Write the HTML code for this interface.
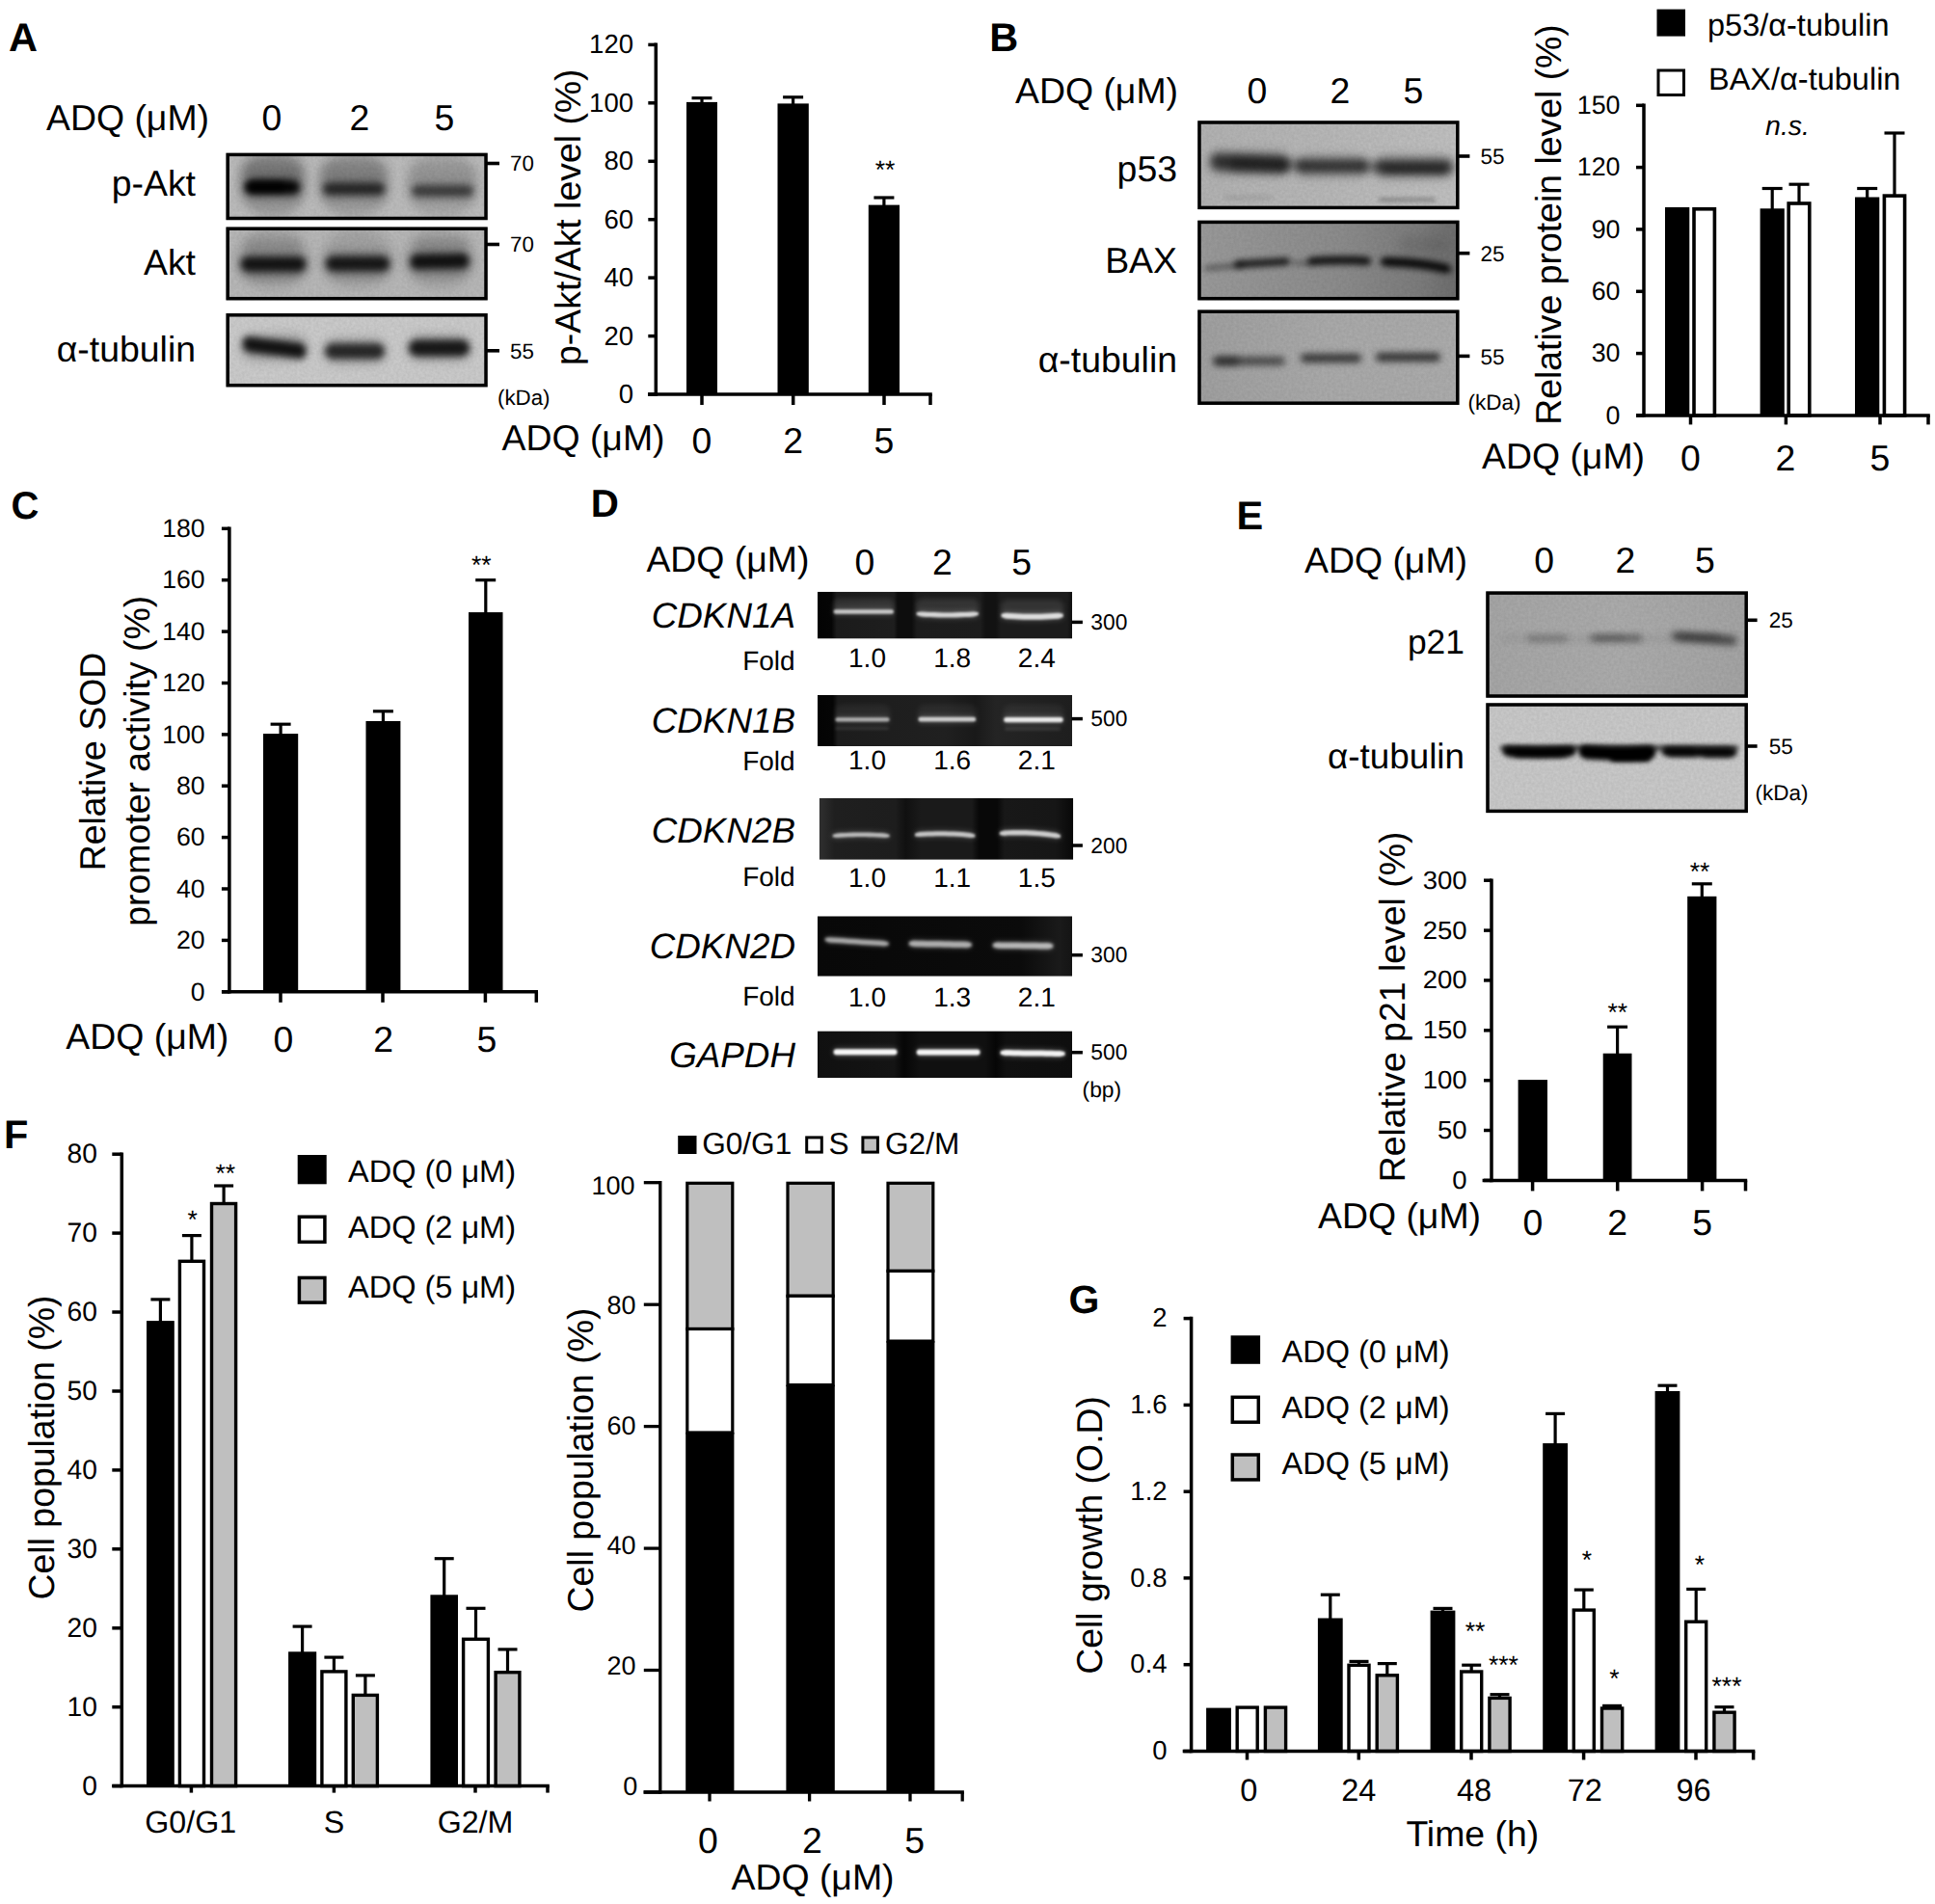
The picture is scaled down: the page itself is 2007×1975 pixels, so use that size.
<!DOCTYPE html>
<html lang="en"><head><meta charset="utf-8"><title>Figure</title>
<style>html,body{margin:0;padding:0;background:#fff}svg{display:block}</style>
</head><body>
<svg width="2007" height="1975" viewBox="0 0 2007 1975" font-family='"Liberation Sans", sans-serif' fill="#000" text-rendering="geometricPrecision">
<defs>
<filter id="noise" x="0" y="0" width="100%" height="100%"><feTurbulence type="fractalNoise" baseFrequency="0.35" numOctaves="2" seed="3"/><feColorMatrix type="matrix" values="0 0 0 0 0  0 0 0 0 0  0 0 0 0 0  1.6 0 0 0 -0.3"/></filter>
<clipPath id="cA1"><rect x="234.4" y="158.7" width="271.3" height="69.6"/></clipPath>
<filter id="b5" x="-50%" y="-200%" width="200%" height="500%"><feGaussianBlur stdDeviation="5"/></filter>
<filter id="b6" x="-50%" y="-200%" width="200%" height="500%"><feGaussianBlur stdDeviation="6"/></filter>
<filter id="b5_5" x="-50%" y="-200%" width="200%" height="500%"><feGaussianBlur stdDeviation="5.5"/></filter>
<filter id="b3_8" x="-50%" y="-200%" width="200%" height="500%"><feGaussianBlur stdDeviation="3.8"/></filter>
<filter id="b3" x="-50%" y="-200%" width="200%" height="500%"><feGaussianBlur stdDeviation="3"/></filter>
<clipPath id="cA2"><rect x="234.4" y="235.5" width="271.3" height="76.0"/></clipPath>
<filter id="b4" x="-50%" y="-200%" width="200%" height="500%"><feGaussianBlur stdDeviation="4"/></filter>
<clipPath id="cA3"><rect x="234.4" y="325.0" width="271.3" height="76.4"/></clipPath>
<clipPath id="cB1"><rect x="1242.2" y="125.2" width="271.3" height="91.9"/></clipPath>
<linearGradient id="gB1" x1="0" y1="0" x2="1" y2="0"><stop offset="0" stop-color="#b2b2b2"/><stop offset="0.5" stop-color="#b8b8b8"/><stop offset="1" stop-color="#c0c0c0"/></linearGradient>
<filter id="b4_3" x="-50%" y="-200%" width="200%" height="500%"><feGaussianBlur stdDeviation="4.3"/></filter>
<filter id="b2" x="-50%" y="-200%" width="200%" height="500%"><feGaussianBlur stdDeviation="2"/></filter>
<filter id="b2_5" x="-50%" y="-200%" width="200%" height="500%"><feGaussianBlur stdDeviation="2.5"/></filter>
<clipPath id="cB2"><rect x="1242.2" y="228.7" width="271.3" height="82.8"/></clipPath>
<linearGradient id="gB2" x1="0" y1="0" x2="1" y2="0"><stop offset="0" stop-color="#9a9a9a"/><stop offset="0.55" stop-color="#8c8c8c"/><stop offset="0.85" stop-color="#7c7c7c"/><stop offset="1" stop-color="#6c6c6c"/></linearGradient>
<clipPath id="cB3"><rect x="1242.2" y="321.5" width="271.3" height="98.5"/></clipPath>
<linearGradient id="gB3" x1="0" y1="0" x2="1" y2="0"><stop offset="0" stop-color="#a0a0a0"/><stop offset="0.5" stop-color="#aaaaaa"/><stop offset="1" stop-color="#acacac"/></linearGradient>
<filter id="b3_5" x="-50%" y="-200%" width="200%" height="500%"><feGaussianBlur stdDeviation="3.5"/></filter>
<clipPath id="cD1"><rect x="847.9" y="613.8" width="264.1" height="48.8"/></clipPath>
<linearGradient id="gD1" x1="0" y1="0" x2="1" y2="0"><stop offset="0" stop-color="#030303"/><stop offset="0.055" stop-color="#050505"/><stop offset="0.075" stop-color="#1b1b1b"/><stop offset="0.3" stop-color="#1e1e1e"/><stop offset="0.315" stop-color="#0d0d0d"/><stop offset="0.37" stop-color="#0d0d0d"/><stop offset="0.39" stop-color="#1c1c1c"/><stop offset="0.64" stop-color="#1d1d1d"/><stop offset="0.66" stop-color="#121212"/><stop offset="0.7" stop-color="#121212"/><stop offset="0.72" stop-color="#1c1c1c"/><stop offset="0.98" stop-color="#1c1c1c"/><stop offset="1" stop-color="#101010"/></linearGradient>
<filter id="b1_2" x="-50%" y="-200%" width="200%" height="500%"><feGaussianBlur stdDeviation="1.2"/></filter>
<clipPath id="cD2"><rect x="847.9" y="721.0" width="264.1" height="53.0"/></clipPath>
<linearGradient id="gD2" x1="0" y1="0" x2="1" y2="0"><stop offset="0" stop-color="#030303"/><stop offset="0.06" stop-color="#050505"/><stop offset="0.08" stop-color="#1c1c1c"/><stop offset="0.5" stop-color="#202020"/><stop offset="0.62" stop-color="#191919"/><stop offset="0.7" stop-color="#242424"/><stop offset="1" stop-color="#1e1e1e"/></linearGradient>
<filter id="b1_5" x="-50%" y="-200%" width="200%" height="500%"><feGaussianBlur stdDeviation="1.5"/></filter>
<clipPath id="cD3"><rect x="849.7" y="827.8" width="263.5" height="64.0"/></clipPath>
<linearGradient id="gD3" x1="0" y1="0" x2="1" y2="0"><stop offset="0" stop-color="#303030"/><stop offset="0.06" stop-color="#1f1f1f"/><stop offset="0.3" stop-color="#1d1d1d"/><stop offset="0.34" stop-color="#101010"/><stop offset="0.4" stop-color="#1a1a1a"/><stop offset="0.6" stop-color="#1a1a1a"/><stop offset="0.63" stop-color="#080808"/><stop offset="0.7" stop-color="#080808"/><stop offset="0.73" stop-color="#181818"/><stop offset="0.93" stop-color="#161616"/><stop offset="1" stop-color="#080808"/></linearGradient>
<clipPath id="cD4"><rect x="847.9" y="950.3" width="264.1" height="62.4"/></clipPath>
<linearGradient id="gD4" x1="0" y1="0" x2="1" y2="0"><stop offset="0" stop-color="#080808"/><stop offset="0.8" stop-color="#0b0b0b"/><stop offset="0.95" stop-color="#1a1a1a"/><stop offset="1" stop-color="#141414"/></linearGradient>
<clipPath id="cD5"><rect x="847.9" y="1069.4" width="264.1" height="48.7"/></clipPath>
<linearGradient id="gD5" x1="0" y1="0" x2="1" y2="0"><stop offset="0" stop-color="#101010"/><stop offset="0.3" stop-color="#141414"/><stop offset="0.34" stop-color="#060606"/><stop offset="0.4" stop-color="#101010"/><stop offset="0.66" stop-color="#101010"/><stop offset="0.7" stop-color="#060606"/><stop offset="0.74" stop-color="#101010"/><stop offset="1" stop-color="#0e0e0e"/></linearGradient>
<clipPath id="cE1"><rect x="1541.3" y="613.4" width="271.7" height="110.4"/></clipPath>
<linearGradient id="gE1" x1="0" y1="0" x2="1" y2="0"><stop offset="0" stop-color="#a6a6a6"/><stop offset="0.5" stop-color="#acacac"/><stop offset="1" stop-color="#a4a4a4"/></linearGradient>
<clipPath id="cE2"><rect x="1541.3" y="729.2" width="271.7" height="113.9"/></clipPath>
<filter id="b2_6" x="-50%" y="-200%" width="200%" height="500%"><feGaussianBlur stdDeviation="2.6"/></filter>
<filter id="b2_8" x="-50%" y="-200%" width="200%" height="500%"><feGaussianBlur stdDeviation="2.8"/></filter>
</defs>
<rect width="2007" height="1975" fill="#fff"/>
<text x="9.0" y="53.0" font-size="41.5" font-weight="bold">A</text>
<text x="48.0" y="135.0" font-size="37.4">ADQ (μM)</text>
<text x="282.0" y="135.0" font-size="37.4" text-anchor="middle">0</text>
<text x="373.0" y="135.0" font-size="37.4" text-anchor="middle">2</text>
<text x="461.0" y="135.0" font-size="37.4" text-anchor="middle">5</text>
<text x="203.0" y="203.0" font-size="37.4" text-anchor="end">p-Akt</text>
<text x="203.0" y="284.5" font-size="37.4" text-anchor="end">Akt</text>
<text x="203.0" y="375.0" font-size="37.4" text-anchor="end">α-tubulin</text>
<g clip-path="url(#cA1)">
<rect x="234.4" y="158.7" width="271.3" height="69.6" fill="#bcbcbc"/>
<rect x="247.0" y="159.0" width="72.0" height="66.0" rx="33.0" fill="#000" opacity="0.17" filter="url(#b5)"/>
<rect x="329.0" y="159.0" width="76.0" height="66.0" rx="33.0" fill="#000" opacity="0.14" filter="url(#b5)"/>
<rect x="420.0" y="159.0" width="77.0" height="66.0" rx="33.0" fill="#000" opacity="0.1" filter="url(#b5)"/>
<rect x="250.0" y="164.0" width="66.0" height="26.0" rx="13.0" fill="#000" opacity="0.22" filter="url(#b6)"/>
<rect x="332.0" y="166.0" width="70.0" height="26.0" rx="13.0" fill="#000" opacity="0.18" filter="url(#b6)"/>
<rect x="424.0" y="169.0" width="70.0" height="24.0" rx="12.0" fill="#000" opacity="0.1" filter="url(#b6)"/>
<rect x="252.0" y="183.0" width="61.0" height="24.0" rx="12.0" fill="#000" opacity="0.3" filter="url(#b5_5)"/>
<rect x="333.0" y="186.0" width="68.0" height="22.0" rx="11.0" fill="#000" opacity="0.22" filter="url(#b5_5)"/>
<rect x="425.0" y="189.0" width="68.0" height="20.0" rx="10.0" fill="#000" opacity="0.18" filter="url(#b5_5)"/>
<rect x="254.0" y="187.1" width="57.0" height="14.5" rx="7.2" fill="#000" opacity="0.95" filter="url(#b3_8)"/>
<rect x="256.0" y="188.0" width="40.0" height="11.0" rx="5.5" fill="#000" opacity="0.6" filter="url(#b3)"/>
<rect x="335.0" y="189.8" width="64.0" height="12.5" rx="6.2" fill="#000" opacity="0.68" filter="url(#b3_8)"/>
<rect x="427.0" y="192.2" width="64.0" height="11.5" rx="5.8" fill="#000" opacity="0.56" filter="url(#b3_8)"/>
<rect x="234.4" y="158.7" width="271.3" height="69.6" filter="url(#noise)" opacity="0.06"/>
</g>
<rect x="236.2" y="160.4" width="267.8" height="66.1" fill="none" stroke="#000" stroke-width="3.5"/>
<g clip-path="url(#cA2)">
<rect x="234.4" y="235.5" width="271.3" height="76.0" fill="#b8b8b8"/>
<rect x="246.0" y="237.0" width="74.0" height="62.0" rx="31.0" fill="#000" opacity="0.13" filter="url(#b6)"/>
<rect x="334.0" y="237.0" width="74.0" height="62.0" rx="31.0" fill="#000" opacity="0.11" filter="url(#b6)"/>
<rect x="420.0" y="237.0" width="72.0" height="62.0" rx="31.0" fill="#000" opacity="0.12" filter="url(#b6)"/>
<rect x="254.0" y="249.5" width="58.0" height="9.0" rx="4.5" fill="#000" opacity="0.12" filter="url(#b4)"/>
<rect x="430.0" y="248.5" width="56.0" height="9.0" rx="4.5" fill="#000" opacity="0.12" filter="url(#b4)"/>
<rect x="248.0" y="261.5" width="71.0" height="26.0" rx="13.0" fill="#000" opacity="0.3" filter="url(#b5_5)"/>
<rect x="336.0" y="261.0" width="70.0" height="26.0" rx="13.0" fill="#000" opacity="0.28" filter="url(#b5_5)"/>
<rect x="424.0" y="259.0" width="64.0" height="26.0" rx="13.0" fill="#000" opacity="0.3" filter="url(#b5_5)"/>
<rect x="250.0" y="266.4" width="67.0" height="15.0" rx="7.5" fill="#000" opacity="0.82" filter="url(#b3_8)"/>
<rect x="338.0" y="266.0" width="66.0" height="15.0" rx="7.5" fill="#000" opacity="0.8" filter="url(#b3_8)"/>
<path d="M426.0 267.4 L430.3 263.9 L434.6 263.9 L438.9 263.8 L443.1 263.7 L447.4 263.6 L451.7 263.6 L456.0 263.5 L460.3 263.4 L464.6 263.4 L468.9 263.3 L473.1 263.2 L477.4 263.1 L481.7 263.1 L486.0 266.4 L486.0 274.6 L481.7 278.1 L477.4 278.1 L473.1 278.2 L468.9 278.3 L464.6 278.4 L460.3 278.4 L456.0 278.5 L451.7 278.6 L447.4 278.6 L443.1 278.7 L438.9 278.8 L434.6 278.9 L430.3 278.9 L426.0 275.6Z" fill="#000" opacity="0.84" filter="url(#b3_8)"/>
<rect x="234.4" y="235.5" width="271.3" height="76.0" filter="url(#noise)" opacity="0.06"/>
</g>
<rect x="236.2" y="237.2" width="267.8" height="72.5" fill="none" stroke="#000" stroke-width="3.5"/>
<g clip-path="url(#cA3)">
<rect x="234.4" y="325.0" width="271.3" height="76.4" fill="#cbcbcb"/>
<rect x="250.0" y="347.0" width="69.0" height="27.0" rx="13.5" fill="#000" opacity="0.22" filter="url(#b5_5)"/>
<rect x="335.0" y="350.8" width="66.0" height="27.0" rx="13.5" fill="#000" opacity="0.2" filter="url(#b5_5)"/>
<rect x="422.0" y="347.5" width="67.0" height="27.0" rx="13.5" fill="#000" opacity="0.22" filter="url(#b5_5)"/>
<path d="M252.0 352.1 L256.6 349.1 L261.3 349.6 L265.9 350.2 L270.6 350.8 L275.2 351.4 L279.9 351.9 L284.5 352.5 L289.1 353.1 L293.8 353.6 L298.4 354.2 L303.1 354.8 L307.7 355.4 L312.4 355.9 L317.0 360.1 L317.0 368.9 L312.4 371.9 L307.7 371.4 L303.1 370.8 L298.4 370.2 L293.8 369.6 L289.1 369.1 L284.5 368.5 L279.9 367.9 L275.2 367.4 L270.6 366.8 L265.9 366.2 L261.3 365.6 L256.6 365.1 L252.0 360.9Z" fill="#000" opacity="0.88" filter="url(#b3_8)"/>
<rect x="337.0" y="356.3" width="62.0" height="16.0" rx="8.0" fill="#000" opacity="0.75" filter="url(#b3_8)"/>
<rect x="424.0" y="352.5" width="63.0" height="17.0" rx="8.5" fill="#000" opacity="0.84" filter="url(#b3_8)"/>
<rect x="234.4" y="325.0" width="271.3" height="76.4" filter="url(#noise)" opacity="0.06"/>
</g>
<rect x="236.2" y="326.8" width="267.8" height="72.9" fill="none" stroke="#000" stroke-width="3.5"/>
<line x1="505.0" y1="169.5" x2="518.0" y2="169.5" stroke="#000" stroke-width="3.6"/>
<text x="529.0" y="177.3" font-size="22.3">70</text>
<line x1="505.0" y1="253.5" x2="518.0" y2="253.5" stroke="#000" stroke-width="3.6"/>
<text x="529.0" y="261.3" font-size="22.3">70</text>
<line x1="505.0" y1="363.8" x2="518.0" y2="363.8" stroke="#000" stroke-width="3.6"/>
<text x="529.0" y="371.6" font-size="22.3">55</text>
<text x="516.0" y="419.5" font-size="22.3">(kDa)</text>
<rect x="712.0" y="105.9" width="32.0" height="303.1" fill="#000"/>
<line x1="728.0" y1="101.7" x2="728.0" y2="106.9" stroke="#000" stroke-width="3.2"/>
<line x1="717.5" y1="101.7" x2="738.5" y2="101.7" stroke="#000" stroke-width="3.2"/>
<rect x="806.5" y="107.4" width="32.3" height="301.6" fill="#000"/>
<line x1="822.6" y1="100.8" x2="822.6" y2="108.4" stroke="#000" stroke-width="3.2"/>
<line x1="812.1" y1="100.8" x2="833.1" y2="100.8" stroke="#000" stroke-width="3.2"/>
<rect x="900.8" y="212.6" width="32.2" height="196.4" fill="#000"/>
<line x1="916.9" y1="205.0" x2="916.9" y2="213.6" stroke="#000" stroke-width="3.2"/>
<line x1="906.4" y1="205.0" x2="927.4" y2="205.0" stroke="#000" stroke-width="3.2"/>
<text x="918.0" y="185.0" font-size="26.5" text-anchor="middle">**</text>
<text x="602.3" y="225.2" font-size="37.4" text-anchor="middle" transform="rotate(-90 602.3 225.2)">p-Akt/Akt level (%)</text>
<text x="520.5" y="467.0" font-size="37.4">ADQ (μM)</text>
<text x="728.0" y="470.0" font-size="37.4" text-anchor="middle">0</text>
<text x="822.7" y="470.0" font-size="37.4" text-anchor="middle">2</text>
<text x="917.0" y="470.0" font-size="37.4" text-anchor="middle">5</text>
<text x="1026.2" y="53.0" font-size="41.5" font-weight="bold">B</text>
<text x="1053.0" y="107.0" font-size="37.4">ADQ (μM)</text>
<text x="1304.0" y="107.0" font-size="37.4" text-anchor="middle">0</text>
<text x="1390.0" y="107.0" font-size="37.4" text-anchor="middle">2</text>
<text x="1466.0" y="107.0" font-size="37.4" text-anchor="middle">5</text>
<text x="1221.0" y="187.5" font-size="37.4" text-anchor="end">p53</text>
<text x="1221.0" y="283.0" font-size="37.4" text-anchor="end">BAX</text>
<text x="1221.0" y="386.0" font-size="37.4" text-anchor="end">α-tubulin</text>
<g clip-path="url(#cB1)">
<rect x="1242.2" y="125.2" width="271.3" height="91.9" fill="url(#gB1)"/>
<rect x="1254.0" y="156.5" width="85.0" height="24.0" rx="12.0" fill="#000" opacity="0.2" filter="url(#b6)"/>
<rect x="1342.0" y="161.3" width="79.0" height="22.0" rx="11.0" fill="#000" opacity="0.18" filter="url(#b6)"/>
<rect x="1424.0" y="161.2" width="85.0" height="24.0" rx="12.0" fill="#000" opacity="0.2" filter="url(#b6)"/>
<path d="M1256.0 162.8 L1261.8 159.3 L1267.6 159.6 L1273.4 159.9 L1279.1 160.1 L1284.9 160.4 L1290.7 160.7 L1296.5 161.0 L1302.3 161.3 L1308.1 161.6 L1313.9 161.9 L1319.6 162.1 L1325.4 162.4 L1331.2 162.7 L1337.0 166.8 L1337.0 176.2 L1331.2 179.7 L1325.4 179.4 L1319.6 179.1 L1313.9 178.9 L1308.1 178.6 L1302.3 178.3 L1296.5 178.0 L1290.7 177.7 L1284.9 177.4 L1279.1 177.1 L1273.4 176.9 L1267.6 176.6 L1261.8 176.3 L1256.0 172.2Z" fill="#000" opacity="0.66" filter="url(#b4_3)"/>
<rect x="1275.0" y="163.0" width="61.0" height="14.0" rx="7.0" fill="#000" opacity="0.3" filter="url(#b4)"/>
<rect x="1344.0" y="165.3" width="75.0" height="14.0" rx="7.0" fill="#000" opacity="0.66" filter="url(#b4_3)"/>
<rect x="1426.0" y="165.7" width="81.0" height="15.0" rx="7.5" fill="#000" opacity="0.66" filter="url(#b4_3)"/>
<rect x="1436.0" y="172.0" width="64.0" height="8.0" rx="4.0" fill="#000" opacity="0.28" filter="url(#b3)"/>
<rect x="1330.0" y="167.0" width="20.0" height="8.0" rx="4.0" fill="#000" opacity="0.3" filter="url(#b4)"/>
<rect x="1412.0" y="169.0" width="20.0" height="8.0" rx="4.0" fill="#000" opacity="0.3" filter="url(#b4)"/>
<rect x="1430.0" y="205.2" width="59.0" height="4.0" rx="2.0" fill="#000" opacity="0.28" filter="url(#b2)"/>
<rect x="1270.0" y="203.0" width="50.0" height="4.0" rx="2.0" fill="#000" opacity="0.1" filter="url(#b2_5)"/>
<rect x="1242.2" y="125.2" width="271.3" height="91.9" filter="url(#noise)" opacity="0.06"/>
</g>
<rect x="1244.0" y="127.0" width="267.8" height="88.4" fill="none" stroke="#000" stroke-width="3.5"/>
<g clip-path="url(#cB2)">
<rect x="1242.2" y="228.7" width="271.3" height="82.8" fill="url(#gB2)"/>
<path d="M1249.0 277.3 L1251.9 276.0 L1254.9 275.8 L1257.8 275.5 L1260.7 275.2 L1263.6 275.0 L1266.6 274.8 L1269.5 274.5 L1272.4 274.2 L1275.4 274.0 L1278.3 273.8 L1281.2 273.5 L1284.1 273.2 L1287.1 273.0 L1290.0 273.8 L1290.0 276.2 L1287.1 277.5 L1284.1 277.8 L1281.2 278.0 L1278.3 278.2 L1275.4 278.5 L1272.4 278.8 L1269.5 279.0 L1266.6 279.2 L1263.6 279.5 L1260.7 279.8 L1257.8 280.0 L1254.9 280.2 L1251.9 280.5 L1249.0 279.7Z" fill="#000" opacity="0.5" filter="url(#b3)"/>
<path d="M1280.0 272.3 L1284.1 270.3 L1288.3 270.0 L1292.4 269.8 L1296.6 269.5 L1300.7 269.2 L1304.9 269.0 L1309.0 268.8 L1313.1 268.5 L1317.3 268.2 L1321.4 268.0 L1325.6 267.8 L1329.7 267.5 L1333.9 267.2 L1338.0 268.8 L1338.0 273.2 L1333.9 275.2 L1329.7 275.5 L1325.6 275.8 L1321.4 276.0 L1317.3 276.2 L1313.1 276.5 L1309.0 276.8 L1304.9 277.0 L1300.7 277.2 L1296.6 277.5 L1292.4 277.8 L1288.3 278.0 L1284.1 278.3 L1280.0 276.7Z" fill="#000" opacity="0.82" filter="url(#b3)"/>
<path d="M1356.0 269.0 L1360.7 266.6 L1365.4 266.3 L1370.1 266.1 L1374.9 265.8 L1379.6 265.7 L1384.3 265.6 L1389.0 265.5 L1393.7 265.5 L1398.4 265.5 L1403.1 265.6 L1407.9 265.8 L1412.6 266.0 L1417.3 266.2 L1422.0 268.5 L1422.0 273.5 L1417.3 275.2 L1412.6 275.0 L1407.9 274.8 L1403.1 274.6 L1398.4 274.5 L1393.7 274.5 L1389.0 274.5 L1384.3 274.6 L1379.6 274.7 L1374.9 274.8 L1370.1 275.1 L1365.4 275.3 L1360.7 275.6 L1356.0 274.0Z" fill="#000" opacity="0.86" filter="url(#b3)"/>
<rect x="1340.0" y="271.0" width="20.0" height="4.0" rx="2.0" fill="#000" opacity="0.4" filter="url(#b3)"/>
<path d="M1432.0 268.8 L1437.2 266.5 L1442.4 266.7 L1447.6 266.9 L1452.9 267.2 L1458.1 267.5 L1463.3 268.0 L1468.5 268.5 L1473.7 269.1 L1478.9 269.8 L1484.1 270.6 L1489.4 271.4 L1494.6 272.4 L1499.8 273.4 L1505.0 276.8 L1505.0 282.2 L1499.8 283.4 L1494.6 282.4 L1489.4 281.4 L1484.1 280.6 L1478.9 279.8 L1473.7 279.1 L1468.5 278.5 L1463.3 278.0 L1458.1 277.5 L1452.9 277.2 L1447.6 276.9 L1442.4 276.7 L1437.2 276.5 L1432.0 274.2Z" fill="#000" opacity="0.92" filter="url(#b3)"/>
<rect x="1450.0" y="246.0" width="50.0" height="16.0" rx="8.0" fill="#000" opacity="0.1" filter="url(#b6)"/>
<rect x="1242.2" y="228.7" width="271.3" height="82.8" filter="url(#noise)" opacity="0.06"/>
</g>
<rect x="1244.0" y="230.4" width="267.8" height="79.3" fill="none" stroke="#000" stroke-width="3.5"/>
<g clip-path="url(#cB3)">
<rect x="1242.2" y="321.5" width="271.3" height="98.5" fill="url(#gB3)"/>
<rect x="1258.0" y="370.0" width="75.0" height="9.0" rx="4.5" fill="#000" opacity="0.55" filter="url(#b3_5)"/>
<rect x="1260.0" y="370.0" width="25.0" height="9.0" rx="4.5" fill="#000" opacity="0.38" filter="url(#b3_5)"/>
<rect x="1349.0" y="367.0" width="63.0" height="9.0" rx="4.5" fill="#000" opacity="0.68" filter="url(#b3_5)"/>
<rect x="1427.0" y="366.0" width="67.0" height="9.0" rx="4.5" fill="#000" opacity="0.7" filter="url(#b3_5)"/>
<rect x="1242.2" y="321.5" width="271.3" height="98.5" filter="url(#noise)" opacity="0.06"/>
</g>
<rect x="1244.0" y="323.2" width="267.8" height="95.0" fill="none" stroke="#000" stroke-width="3.5"/>
<line x1="1513.0" y1="162.0" x2="1524.4" y2="162.0" stroke="#000" stroke-width="3.6"/>
<text x="1535.5" y="170.3" font-size="22.5">55</text>
<line x1="1513.0" y1="262.7" x2="1524.4" y2="262.7" stroke="#000" stroke-width="3.6"/>
<text x="1535.5" y="271.0" font-size="22.5">25</text>
<line x1="1513.0" y1="369.4" x2="1524.4" y2="369.4" stroke="#000" stroke-width="3.6"/>
<text x="1535.5" y="377.7" font-size="22.5">55</text>
<text x="1522.6" y="424.8" font-size="22.5">(kDa)</text>
<rect x="1727.0" y="215.0" width="25.3" height="215.9" fill="#000"/>
<rect x="1757.0" y="216.8" width="21.4" height="214.1" fill="#fff" stroke="#000" stroke-width="3.6"/>
<rect x="1825.6" y="216.3" width="25.2" height="214.6" fill="#000"/>
<rect x="1855.2" y="211.0" width="21.6" height="219.9" fill="#fff" stroke="#000" stroke-width="3.6"/>
<line x1="1838.2" y1="195.5" x2="1838.2" y2="217.3" stroke="#000" stroke-width="3.2"/>
<line x1="1827.7" y1="195.5" x2="1848.7" y2="195.5" stroke="#000" stroke-width="3.2"/>
<line x1="1866.0" y1="191.2" x2="1866.0" y2="210.2" stroke="#000" stroke-width="3.2"/>
<line x1="1855.5" y1="191.2" x2="1876.5" y2="191.2" stroke="#000" stroke-width="3.2"/>
<rect x="1924.0" y="204.5" width="25.3" height="226.4" fill="#000"/>
<rect x="1954.4" y="203.1" width="21.2" height="227.8" fill="#fff" stroke="#000" stroke-width="3.6"/>
<line x1="1936.7" y1="195.5" x2="1936.7" y2="205.5" stroke="#000" stroke-width="3.2"/>
<line x1="1926.2" y1="195.5" x2="1947.2" y2="195.5" stroke="#000" stroke-width="3.2"/>
<line x1="1965.0" y1="138.0" x2="1965.0" y2="202.3" stroke="#000" stroke-width="3.2"/>
<line x1="1954.5" y1="138.0" x2="1975.5" y2="138.0" stroke="#000" stroke-width="3.2"/>
<text x="1854.0" y="140.0" font-size="28.5" text-anchor="middle" font-style="italic">n.s.</text>
<text x="1619.0" y="233.0" font-size="37.4" text-anchor="middle" transform="rotate(-90 1619.0 233.0)">Relative protein level (%)</text>
<text x="1537.0" y="486.0" font-size="37.4">ADQ (μM)</text>
<text x="1753.5" y="488.0" font-size="37.4" text-anchor="middle">0</text>
<text x="1852.0" y="488.0" font-size="37.4" text-anchor="middle">2</text>
<text x="1950.0" y="488.0" font-size="37.4" text-anchor="middle">5</text>
<rect x="1718.5" y="9.6" width="29.5" height="28.0" fill="#000"/>
<rect x="1720.0" y="73.0" width="26.5" height="25.5" fill="#fff" stroke="#000" stroke-width="3"/>
<text x="1771.0" y="37.0" font-size="32.5">p53/α-tubulin</text>
<text x="1772.0" y="93.0" font-size="32.5">BAX/α-tubulin</text>
<text x="11.5" y="538.0" font-size="40" font-weight="bold">C</text>
<rect x="273.0" y="761.1" width="36.2" height="267.7" fill="#000"/>
<line x1="291.1" y1="751.2" x2="291.1" y2="762.1" stroke="#000" stroke-width="3.2"/>
<line x1="280.6" y1="751.2" x2="301.6" y2="751.2" stroke="#000" stroke-width="3.2"/>
<rect x="379.5" y="748.0" width="35.9" height="280.8" fill="#000"/>
<line x1="397.4" y1="737.8" x2="397.4" y2="749.0" stroke="#000" stroke-width="3.2"/>
<line x1="386.9" y1="737.8" x2="407.9" y2="737.8" stroke="#000" stroke-width="3.2"/>
<rect x="486.0" y="635.1" width="35.5" height="393.7" fill="#000"/>
<line x1="503.8" y1="601.7" x2="503.8" y2="636.1" stroke="#000" stroke-width="3.2"/>
<line x1="493.2" y1="601.7" x2="514.2" y2="601.7" stroke="#000" stroke-width="3.2"/>
<text x="499.3" y="595.0" font-size="26.5" text-anchor="middle">**</text>
<text x="109.0" y="790.0" font-size="37.4" text-anchor="middle" transform="rotate(-90 109.0 790.0)">Relative SOD</text>
<text x="155.4" y="789.3" font-size="37.4" text-anchor="middle" transform="rotate(-90 155.4 789.3)">promoter activity (%)</text>
<text x="68.3" y="1087.5" font-size="37.4">ADQ (μM)</text>
<text x="294.0" y="1091.0" font-size="37.4" text-anchor="middle">0</text>
<text x="397.6" y="1091.0" font-size="37.4" text-anchor="middle">2</text>
<text x="505.0" y="1091.0" font-size="37.4" text-anchor="middle">5</text>
<text x="612.8" y="536.4" font-size="40.3" font-weight="bold">D</text>
<text x="670.4" y="593.2" font-size="37.4">ADQ (μM)</text>
<text x="896.8" y="595.5" font-size="37.4" text-anchor="middle">0</text>
<text x="977.5" y="595.5" font-size="37.4" text-anchor="middle">2</text>
<text x="1059.7" y="595.5" font-size="37.4" text-anchor="middle">5</text>
<text x="825.0" y="651.2" font-size="36.8" text-anchor="end" font-style="italic">CDKN1A</text>
<text x="825.0" y="759.7" font-size="36.8" text-anchor="end" font-style="italic">CDKN1B</text>
<text x="825.0" y="874.0" font-size="36.8" text-anchor="end" font-style="italic">CDKN2B</text>
<text x="825.0" y="993.6" font-size="36.8" text-anchor="end" font-style="italic">CDKN2D</text>
<text x="825.0" y="1107.0" font-size="36.8" text-anchor="end" font-style="italic">GAPDH</text>
<text x="824.6" y="694.5" font-size="28" text-anchor="end">Fold</text>
<text x="899.5" y="691.7" font-size="28" text-anchor="middle">1.0</text>
<text x="987.6" y="691.7" font-size="28" text-anchor="middle">1.8</text>
<text x="1075.3" y="691.7" font-size="28" text-anchor="middle">2.4</text>
<text x="824.6" y="798.5" font-size="28" text-anchor="end">Fold</text>
<text x="899.5" y="798.2" font-size="28" text-anchor="middle">1.0</text>
<text x="987.6" y="798.2" font-size="28" text-anchor="middle">1.6</text>
<text x="1075.3" y="798.2" font-size="28" text-anchor="middle">2.1</text>
<text x="824.6" y="919.3" font-size="28" text-anchor="end">Fold</text>
<text x="899.5" y="919.5" font-size="28" text-anchor="middle">1.0</text>
<text x="987.6" y="919.5" font-size="28" text-anchor="middle">1.1</text>
<text x="1075.3" y="919.5" font-size="28" text-anchor="middle">1.5</text>
<text x="824.6" y="1043.3" font-size="28" text-anchor="end">Fold</text>
<text x="899.5" y="1043.8" font-size="28" text-anchor="middle">1.0</text>
<text x="987.6" y="1043.8" font-size="28" text-anchor="middle">1.3</text>
<text x="1075.3" y="1043.8" font-size="28" text-anchor="middle">2.1</text>
<g clip-path="url(#cD1)">
<rect x="847.9" y="613.8" width="264.1" height="48.8" fill="url(#gD1)"/>
<rect x="863.6" y="621.0" width="64.4" height="13.5" rx="6.8" fill="#fff" opacity="0.1" filter="url(#b2_5)"/>
<rect x="863.6" y="630.2" width="64.4" height="8.6" rx="4.3" fill="#fff" opacity="0.13999999999999999" filter="url(#b2_5)"/>
<rect x="864.6" y="632.2" width="62.4" height="4.6" rx="2.3" fill="#fff" opacity="0.7" filter="url(#b1_2)"/>
<rect x="949.7" y="621.0" width="66.1" height="15.6" rx="7.8" fill="#fff" opacity="0.1" filter="url(#b2_5)"/>
<path d="M949.7 634.1 L954.4 632.4 L959.1 632.7 L963.9 632.9 L968.6 633.1 L973.3 633.3 L978.0 633.4 L982.8 633.4 L987.5 633.4 L992.2 633.3 L996.9 633.1 L1001.6 632.9 L1006.4 632.7 L1011.1 632.4 L1015.8 634.1 L1015.8 639.1 L1011.1 641.6 L1006.4 641.9 L1001.6 642.1 L996.9 642.3 L992.2 642.5 L987.5 642.6 L982.8 642.6 L978.0 642.6 L973.3 642.5 L968.6 642.3 L963.9 642.1 L959.1 641.9 L954.4 641.6 L949.7 639.1Z" fill="#fff" opacity="0.15600000000000003" filter="url(#b2_5)"/>
<path d="M950.7 635.2 L955.3 634.4 L959.9 634.7 L964.4 634.9 L969.0 635.1 L973.6 635.3 L978.2 635.4 L982.8 635.4 L987.3 635.4 L991.9 635.3 L996.5 635.1 L1001.1 634.9 L1005.6 634.7 L1010.2 634.4 L1014.8 635.2 L1014.8 638.0 L1010.2 639.6 L1005.6 639.9 L1001.1 640.1 L996.5 640.3 L991.9 640.5 L987.3 640.6 L982.8 640.6 L978.2 640.6 L973.6 640.5 L969.0 640.3 L964.4 640.1 L959.9 639.9 L955.3 639.6 L950.7 638.0Z" fill="#fff" opacity="0.78" filter="url(#b1_2)"/>
<rect x="1037.6" y="622.0" width="66.1" height="16.4" rx="8.2" fill="#fff" opacity="0.1" filter="url(#b2_5)"/>
<path d="M1037.6 635.6 L1042.3 633.8 L1047.0 634.1 L1051.8 634.3 L1056.5 634.5 L1061.2 634.7 L1065.9 634.8 L1070.7 634.8 L1075.4 634.8 L1080.1 634.7 L1084.8 634.5 L1089.5 634.3 L1094.3 634.1 L1099.0 633.8 L1103.7 635.6 L1103.7 641.1 L1099.0 643.8 L1094.3 644.1 L1089.5 644.3 L1084.8 644.5 L1080.1 644.7 L1075.4 644.8 L1070.7 644.8 L1065.9 644.8 L1061.2 644.7 L1056.5 644.5 L1051.8 644.3 L1047.0 644.1 L1042.3 643.8 L1037.6 641.1Z" fill="#fff" opacity="0.164" filter="url(#b2_5)"/>
<path d="M1038.6 636.8 L1043.2 635.8 L1047.8 636.1 L1052.3 636.3 L1056.9 636.5 L1061.5 636.7 L1066.1 636.8 L1070.7 636.8 L1075.2 636.8 L1079.8 636.7 L1084.4 636.5 L1089.0 636.3 L1093.5 636.1 L1098.1 635.8 L1102.7 636.8 L1102.7 640.0 L1098.1 641.8 L1093.5 642.1 L1089.0 642.3 L1084.4 642.5 L1079.8 642.7 L1075.2 642.8 L1070.7 642.8 L1066.1 642.8 L1061.5 642.7 L1056.9 642.5 L1052.3 642.3 L1047.8 642.1 L1043.2 641.8 L1038.6 640.0Z" fill="#fff" opacity="0.82" filter="url(#b1_2)"/>
</g>
<g clip-path="url(#cD2)">
<rect x="847.9" y="721.0" width="264.1" height="53.0" fill="url(#gD2)"/>
<rect x="865.4" y="731.0" width="58.2" height="15.4" rx="7.7" fill="#fff" opacity="0.05" filter="url(#b2_5)"/>
<rect x="865.4" y="742.3" width="58.2" height="8.2" rx="4.1" fill="#fff" opacity="0.11599999999999999" filter="url(#b2_5)"/>
<rect x="866.4" y="744.3" width="56.2" height="4.2" rx="2.1" fill="#fff" opacity="0.58" filter="url(#b1_2)"/>
<rect x="951.5" y="731.0" width="61.7" height="15.2" rx="7.6" fill="#fff" opacity="0.05" filter="url(#b2_5)"/>
<rect x="951.5" y="741.8" width="61.7" height="8.8" rx="4.4" fill="#fff" opacity="0.148" filter="url(#b2_5)"/>
<rect x="952.5" y="743.8" width="59.7" height="4.8" rx="2.4" fill="#fff" opacity="0.74" filter="url(#b1_2)"/>
<rect x="1040.2" y="731.0" width="63.5" height="15.6" rx="7.8" fill="#fff" opacity="0.05" filter="url(#b2_5)"/>
<rect x="1040.2" y="742.0" width="63.5" height="9.2" rx="4.6" fill="#fff" opacity="0.17600000000000002" filter="url(#b2_5)"/>
<rect x="1041.2" y="744.0" width="61.5" height="5.2" rx="2.6" fill="#fff" opacity="0.88" filter="url(#b1_2)"/>
<rect x="866.0" y="754.0" width="56.0" height="3.0" rx="1.5" fill="#fff" opacity="0.1" filter="url(#b1_5)"/>
<rect x="1042.0" y="754.5" width="58.0" height="3.0" rx="1.5" fill="#fff" opacity="0.12" filter="url(#b1_5)"/>
</g>
<g clip-path="url(#cD3)">
<rect x="849.7" y="827.8" width="263.5" height="64.0" fill="url(#gD3)"/>
<path d="M862.7 864.6 L867.1 862.4 L871.4 862.1 L875.8 861.9 L880.1 861.7 L884.5 861.6 L888.8 861.5 L893.2 861.5 L897.5 861.5 L901.9 861.6 L906.2 861.7 L910.6 861.9 L914.9 862.1 L919.2 862.4 L923.6 864.6 L923.6 869.4 L919.2 871.0 L914.9 870.7 L910.6 870.5 L906.2 870.3 L901.9 870.2 L897.5 870.1 L893.2 870.1 L888.8 870.1 L884.5 870.2 L880.1 870.3 L875.8 870.5 L871.4 870.7 L867.1 871.0 L862.7 869.4Z" fill="#fff" opacity="0.128" filter="url(#b2_5)"/>
<path d="M863.7 865.7 L867.9 864.4 L872.1 864.1 L876.3 863.9 L880.5 863.7 L884.7 863.6 L888.9 863.5 L893.2 863.5 L897.4 863.5 L901.6 863.6 L905.8 863.7 L910.0 863.9 L914.2 864.1 L918.4 864.4 L922.6 865.7 L922.6 868.3 L918.4 869.0 L914.2 868.7 L910.0 868.5 L905.8 868.3 L901.6 868.2 L897.4 868.1 L893.2 868.1 L888.9 868.1 L884.7 868.2 L880.5 868.3 L876.3 868.5 L872.1 868.7 L867.9 869.0 L863.7 868.3Z" fill="#fff" opacity="0.64" filter="url(#b1_2)"/>
<path d="M948.0 863.5 L952.6 861.1 L957.2 860.8 L961.8 860.6 L966.4 860.4 L971.0 860.3 L975.6 860.3 L980.1 860.3 L984.7 860.4 L989.3 860.6 L993.9 860.8 L998.5 861.1 L1003.1 861.5 L1007.7 862.0 L1012.3 864.5 L1012.3 869.5 L1007.7 871.0 L1003.1 870.5 L998.5 870.1 L993.9 869.8 L989.3 869.6 L984.7 869.4 L980.1 869.3 L975.6 869.3 L971.0 869.3 L966.4 869.4 L961.8 869.6 L957.2 869.8 L952.6 870.1 L948.0 868.5Z" fill="#fff" opacity="0.13999999999999999" filter="url(#b2_5)"/>
<path d="M949.0 864.6 L953.5 863.1 L957.9 862.8 L962.4 862.6 L966.8 862.4 L971.2 862.3 L975.7 862.3 L980.1 862.3 L984.6 862.4 L989.0 862.6 L993.5 862.8 L997.9 863.1 L1002.4 863.5 L1006.8 864.0 L1011.3 865.6 L1011.3 868.4 L1006.8 869.0 L1002.4 868.5 L997.9 868.1 L993.5 867.8 L989.0 867.6 L984.6 867.4 L980.1 867.3 L975.7 867.3 L971.2 867.3 L966.8 867.4 L962.4 867.6 L957.9 867.8 L953.5 868.1 L949.0 867.4Z" fill="#fff" opacity="0.7" filter="url(#b1_2)"/>
<path d="M1035.8 861.9 L1040.5 859.5 L1045.1 859.2 L1049.8 859.1 L1054.4 859.0 L1059.1 859.0 L1063.7 859.1 L1068.4 859.3 L1073.1 859.6 L1077.7 859.9 L1082.4 860.3 L1087.0 860.8 L1091.7 861.4 L1096.3 862.1 L1101.0 864.9 L1101.0 870.1 L1096.3 871.5 L1091.7 870.8 L1087.0 870.2 L1082.4 869.7 L1077.7 869.3 L1073.1 869.0 L1068.4 868.7 L1063.7 868.5 L1059.1 868.4 L1054.4 868.4 L1049.8 868.5 L1045.1 868.6 L1040.5 868.9 L1035.8 867.1Z" fill="#fff" opacity="0.148" filter="url(#b2_5)"/>
<path d="M1036.8 863.0 L1041.3 861.5 L1045.8 861.2 L1050.3 861.1 L1054.9 861.0 L1059.4 861.0 L1063.9 861.1 L1068.4 861.3 L1072.9 861.6 L1077.4 861.9 L1081.9 862.3 L1086.5 862.8 L1091.0 863.4 L1095.5 864.1 L1100.0 866.0 L1100.0 869.0 L1095.5 869.5 L1091.0 868.8 L1086.5 868.2 L1081.9 867.7 L1077.4 867.3 L1072.9 867.0 L1068.4 866.7 L1063.9 866.5 L1059.4 866.4 L1054.9 866.4 L1050.3 866.5 L1045.8 866.6 L1041.3 866.9 L1036.8 866.0Z" fill="#fff" opacity="0.74" filter="url(#b1_2)"/>
</g>
<g clip-path="url(#cD4)">
<rect x="847.9" y="950.3" width="264.1" height="62.4" fill="url(#gD4)"/>
<path d="M854.8 972.0 L859.6 970.2 L864.5 970.5 L869.4 970.8 L874.2 971.1 L879.0 971.4 L883.9 971.7 L888.8 972.0 L893.6 972.4 L898.5 972.7 L903.3 973.0 L908.1 973.3 L913.0 973.6 L917.9 973.9 L922.7 976.4 L922.7 981.6 L917.9 983.4 L913.0 983.1 L908.1 982.8 L903.3 982.5 L898.5 982.2 L893.6 981.9 L888.8 981.5 L883.9 981.2 L879.0 980.9 L874.2 980.6 L869.4 980.3 L864.5 980.0 L859.6 979.7 L854.8 977.2Z" fill="#fff" opacity="0.12" filter="url(#b2_5)"/>
<path d="M855.8 973.1 L860.5 972.2 L865.2 972.5 L869.9 972.8 L874.6 973.1 L879.3 973.4 L884.0 973.7 L888.8 974.0 L893.5 974.4 L898.2 974.7 L902.9 975.0 L907.6 975.3 L912.3 975.6 L917.0 975.9 L921.7 977.5 L921.7 980.5 L917.0 981.4 L912.3 981.1 L907.6 980.8 L902.9 980.5 L898.2 980.2 L893.5 979.9 L888.8 979.5 L884.0 979.2 L879.3 978.9 L874.6 978.6 L869.9 978.3 L865.2 978.0 L860.5 977.7 L855.8 976.1Z" fill="#fff" opacity="0.6" filter="url(#b1_5)"/>
<path d="M941.8 975.9 L946.6 973.6 L951.4 973.7 L956.2 973.8 L960.9 973.9 L965.7 974.0 L970.5 974.1 L975.3 974.1 L980.1 974.2 L984.9 974.3 L989.7 974.4 L994.4 974.5 L999.2 974.6 L1004.0 974.7 L1008.8 977.1 L1008.8 982.9 L1004.0 985.2 L999.2 985.1 L994.4 985.0 L989.7 984.9 L984.9 984.8 L980.1 984.7 L975.3 984.6 L970.5 984.6 L965.7 984.5 L960.9 984.4 L956.2 984.3 L951.4 984.2 L946.6 984.1 L941.8 981.7Z" fill="#fff" opacity="0.124" filter="url(#b2_5)"/>
<path d="M942.8 977.0 L947.4 975.6 L952.1 975.7 L956.7 975.8 L961.4 975.9 L966.0 976.0 L970.7 976.1 L975.3 976.1 L979.9 976.2 L984.6 976.3 L989.2 976.4 L993.9 976.5 L998.5 976.6 L1003.2 976.7 L1007.8 978.2 L1007.8 981.8 L1003.2 983.2 L998.5 983.1 L993.9 983.0 L989.2 982.9 L984.6 982.8 L979.9 982.7 L975.3 982.6 L970.7 982.6 L966.0 982.5 L961.4 982.4 L956.7 982.3 L952.1 982.2 L947.4 982.1 L942.8 980.6Z" fill="#fff" opacity="0.62" filter="url(#b1_5)"/>
<path d="M1028.8 977.6 L1033.4 975.3 L1038.0 975.4 L1042.6 975.4 L1047.2 975.5 L1051.8 975.5 L1056.4 975.6 L1061.0 975.7 L1065.6 975.7 L1070.2 975.8 L1074.8 975.8 L1079.4 975.9 L1084.0 975.9 L1088.6 976.0 L1093.2 978.4 L1093.2 984.2 L1088.6 986.5 L1084.0 986.4 L1079.4 986.4 L1074.8 986.3 L1070.2 986.3 L1065.6 986.2 L1061.0 986.2 L1056.4 986.1 L1051.8 986.0 L1047.2 986.0 L1042.6 985.9 L1038.0 985.9 L1033.4 985.8 L1028.8 983.4Z" fill="#fff" opacity="0.132" filter="url(#b2_5)"/>
<path d="M1029.8 978.7 L1034.3 977.3 L1038.7 977.4 L1043.2 977.4 L1047.6 977.5 L1052.1 977.5 L1056.5 977.6 L1061.0 977.7 L1065.5 977.7 L1069.9 977.8 L1074.4 977.8 L1078.8 977.9 L1083.3 977.9 L1087.7 978.0 L1092.2 979.5 L1092.2 983.1 L1087.7 984.5 L1083.3 984.4 L1078.8 984.4 L1074.4 984.3 L1069.9 984.3 L1065.5 984.2 L1061.0 984.2 L1056.5 984.1 L1052.1 984.0 L1047.6 984.0 L1043.2 983.9 L1038.7 983.9 L1034.3 983.8 L1029.8 982.3Z" fill="#fff" opacity="0.66" filter="url(#b1_5)"/>
</g>
<g clip-path="url(#cD5)">
<rect x="847.9" y="1069.4" width="264.1" height="48.7" fill="url(#gD5)"/>
<rect x="863.6" y="1086.2" width="67.9" height="10.0" rx="5.0" fill="#fff" opacity="0.192" filter="url(#b2_5)"/>
<rect x="864.6" y="1088.2" width="65.9" height="6.0" rx="3.0" fill="#fff" opacity="0.96" filter="url(#b1_2)"/>
<rect x="949.7" y="1086.4" width="67.9" height="10.0" rx="5.0" fill="#fff" opacity="0.19" filter="url(#b2_5)"/>
<rect x="950.7" y="1088.4" width="65.9" height="6.0" rx="3.0" fill="#fff" opacity="0.95" filter="url(#b1_2)"/>
<path d="M1036.7 1089.2 L1041.6 1087.1 L1046.5 1087.1 L1051.4 1087.2 L1056.4 1087.3 L1061.3 1087.4 L1066.2 1087.4 L1071.1 1087.5 L1076.0 1087.6 L1080.9 1087.6 L1085.8 1087.7 L1090.8 1087.8 L1095.7 1087.9 L1100.6 1087.9 L1105.5 1090.2 L1105.5 1095.8 L1100.6 1097.9 L1095.7 1097.9 L1090.8 1097.8 L1085.8 1097.7 L1080.9 1097.6 L1076.0 1097.6 L1071.1 1097.5 L1066.2 1097.4 L1061.3 1097.4 L1056.4 1097.3 L1051.4 1097.2 L1046.5 1097.1 L1041.6 1097.1 L1036.7 1094.8Z" fill="#fff" opacity="0.18600000000000003" filter="url(#b2_5)"/>
<path d="M1037.7 1090.3 L1042.5 1089.1 L1047.2 1089.1 L1052.0 1089.2 L1056.8 1089.3 L1061.6 1089.4 L1066.3 1089.4 L1071.1 1089.5 L1075.9 1089.6 L1080.6 1089.6 L1085.4 1089.7 L1090.2 1089.8 L1095.0 1089.9 L1099.7 1089.9 L1104.5 1091.3 L1104.5 1094.7 L1099.7 1095.9 L1095.0 1095.9 L1090.2 1095.8 L1085.4 1095.7 L1080.6 1095.6 L1075.9 1095.6 L1071.1 1095.5 L1066.3 1095.4 L1061.6 1095.4 L1056.8 1095.3 L1052.0 1095.2 L1047.2 1095.1 L1042.5 1095.1 L1037.7 1093.7Z" fill="#fff" opacity="0.93" filter="url(#b1_2)"/>
</g>
<line x1="1111.5" y1="645.4" x2="1122.9" y2="645.4" stroke="#000" stroke-width="3.5"/>
<text x="1131.3" y="653.0" font-size="22.8">300</text>
<line x1="1111.5" y1="745.6" x2="1122.9" y2="745.6" stroke="#000" stroke-width="3.5"/>
<text x="1131.3" y="753.2" font-size="22.8">500</text>
<line x1="1111.5" y1="877.0" x2="1122.9" y2="877.0" stroke="#000" stroke-width="3.5"/>
<text x="1131.3" y="884.6" font-size="22.8">200</text>
<line x1="1111.5" y1="990.7" x2="1122.9" y2="990.7" stroke="#000" stroke-width="3.5"/>
<text x="1131.3" y="998.3" font-size="22.8">300</text>
<line x1="1111.5" y1="1091.7" x2="1122.9" y2="1091.7" stroke="#000" stroke-width="3.5"/>
<text x="1131.3" y="1099.3" font-size="22.8">500</text>
<text x="1122.6" y="1137.5" font-size="22.8">(bp)</text>
<text x="1282.6" y="549.4" font-size="41.5" font-weight="bold">E</text>
<text x="1353.0" y="594.0" font-size="37.4">ADQ (μM)</text>
<text x="1601.7" y="594.0" font-size="37.4" text-anchor="middle">0</text>
<text x="1686.0" y="594.0" font-size="37.4" text-anchor="middle">2</text>
<text x="1768.3" y="594.0" font-size="37.4" text-anchor="middle">5</text>
<text x="1519.0" y="678.0" font-size="35.4" text-anchor="end">p21</text>
<text x="1519.0" y="797.3" font-size="36.8" text-anchor="end">α-tubulin</text>
<g clip-path="url(#cE1)">
<rect x="1541.3" y="613.4" width="271.7" height="110.4" fill="url(#gE1)"/>
<rect x="1555.0" y="659.0" width="250.0" height="7.0" rx="3.5" fill="#000" opacity="0.07" filter="url(#b4)"/>
<rect x="1584.0" y="659.0" width="42.0" height="6.5" rx="3.2" fill="#000" opacity="0.26" filter="url(#b3_5)"/>
<rect x="1649.0" y="658.5" width="54.0" height="7.0" rx="3.5" fill="#000" opacity="0.4" filter="url(#b3_5)"/>
<rect x="1655.0" y="659.0" width="30.0" height="5.0" rx="2.5" fill="#000" opacity="0.15" filter="url(#b3)"/>
<path d="M1734.0 656.8 L1738.8 654.9 L1743.6 655.3 L1748.4 655.7 L1753.1 656.1 L1757.9 656.5 L1762.7 656.9 L1767.5 657.2 L1772.3 657.6 L1777.1 658.0 L1781.9 658.4 L1786.6 658.8 L1791.4 659.2 L1796.2 659.6 L1801.0 662.2 L1801.0 667.8 L1796.2 669.6 L1791.4 669.2 L1786.6 668.8 L1781.9 668.4 L1777.1 668.0 L1772.3 667.6 L1767.5 667.2 L1762.7 666.9 L1757.9 666.5 L1753.1 666.1 L1748.4 665.7 L1743.6 665.3 L1738.8 664.9 L1734.0 662.2Z" fill="#000" opacity="0.52" filter="url(#b3_8)"/>
<rect x="1742.0" y="657.0" width="43.0" height="7.0" rx="3.5" fill="#000" opacity="0.2" filter="url(#b3)"/>
<rect x="1541.3" y="613.4" width="271.7" height="110.4" filter="url(#noise)" opacity="0.06"/>
</g>
<rect x="1543.0" y="615.1" width="268.2" height="106.9" fill="none" stroke="#000" stroke-width="3.5"/>
<g clip-path="url(#cE2)">
<rect x="1541.3" y="729.2" width="271.7" height="113.9" fill="#c9c9c9"/>
<rect x="1556.0" y="773.5" width="247.0" height="5.0" rx="2.5" fill="#000" opacity="0.75" filter="url(#b2_5)"/>
<path d="M1559.0 775.8 L1564.4 773.6 L1569.7 774.0 L1575.1 774.3 L1580.4 774.5 L1585.8 774.6 L1591.1 774.7 L1596.5 774.8 L1601.9 774.7 L1607.2 774.6 L1612.6 774.5 L1617.9 774.3 L1623.3 774.0 L1628.6 773.6 L1634.0 775.8 L1634.0 782.2 L1628.6 785.1 L1623.3 785.5 L1617.9 785.8 L1612.6 786.0 L1607.2 786.1 L1601.9 786.2 L1596.5 786.2 L1591.1 786.2 L1585.8 786.1 L1580.4 786.0 L1575.1 785.8 L1569.7 785.5 L1564.4 785.1 L1559.0 782.2Z" fill="#000" opacity="0.97" filter="url(#b2_6)"/>
<rect x="1570.0" y="776.5" width="55.0" height="9.0" rx="4.5" fill="#000" opacity="0.6" filter="url(#b2_5)"/>
<path d="M1638.0 775.5 L1643.6 772.8 L1649.3 773.2 L1654.9 773.5 L1660.6 773.8 L1666.2 774.0 L1671.9 774.2 L1677.5 774.2 L1683.1 774.2 L1688.8 774.2 L1694.4 774.0 L1700.1 773.8 L1705.7 773.5 L1711.4 773.2 L1717.0 776.0 L1717.0 784.0 L1711.4 787.7 L1705.7 788.0 L1700.1 788.3 L1694.4 788.5 L1688.8 788.7 L1683.1 788.7 L1677.5 788.8 L1671.9 788.7 L1666.2 788.5 L1660.6 788.3 L1654.9 788.0 L1649.3 787.7 L1643.6 787.3 L1638.0 783.5Z" fill="#000" opacity="1.0" filter="url(#b2_6)"/>
<rect x="1670.0" y="781.0" width="42.0" height="9.0" rx="4.5" fill="#000" opacity="0.95" filter="url(#b2_6)"/>
<path d="M1724.0 776.6 L1729.5 774.3 L1735.0 774.4 L1740.5 774.5 L1746.0 774.5 L1751.5 774.6 L1757.0 774.7 L1762.5 774.8 L1768.0 774.8 L1773.5 774.9 L1779.0 775.0 L1784.5 775.0 L1790.0 775.1 L1795.5 775.2 L1801.0 777.6 L1801.0 783.4 L1795.5 785.7 L1790.0 785.6 L1784.5 785.5 L1779.0 785.5 L1773.5 785.4 L1768.0 785.3 L1762.5 785.2 L1757.0 785.2 L1751.5 785.1 L1746.0 785.0 L1740.5 785.0 L1735.0 784.9 L1729.5 784.8 L1724.0 782.4Z" fill="#000" opacity="0.94" filter="url(#b2_8)"/>
<rect x="1730.0" y="777.0" width="28.0" height="8.0" rx="4.0" fill="#000" opacity="0.4" filter="url(#b2_5)"/>
<rect x="1766.0" y="778.0" width="29.0" height="8.0" rx="4.0" fill="#000" opacity="0.4" filter="url(#b2_5)"/>
<rect x="1541.3" y="729.2" width="271.7" height="113.9" filter="url(#noise)" opacity="0.06"/>
</g>
<rect x="1543.0" y="731.0" width="268.2" height="110.4" fill="none" stroke="#000" stroke-width="3.5"/>
<line x1="1812.5" y1="643.3" x2="1822.6" y2="643.3" stroke="#000" stroke-width="3.6"/>
<text x="1834.7" y="651.3" font-size="22.5">25</text>
<line x1="1812.5" y1="774.0" x2="1822.6" y2="774.0" stroke="#000" stroke-width="3.6"/>
<text x="1834.7" y="782.0" font-size="22.5">55</text>
<text x="1820.6" y="829.6" font-size="22.5">(kDa)</text>
<rect x="1574.6" y="1120.1" width="30.4" height="104.3" fill="#000"/>
<rect x="1662.7" y="1092.7" width="29.8" height="131.7" fill="#000"/>
<line x1="1677.6" y1="1065.2" x2="1677.6" y2="1093.7" stroke="#000" stroke-width="3.2"/>
<line x1="1667.1" y1="1065.2" x2="1688.1" y2="1065.2" stroke="#000" stroke-width="3.2"/>
<rect x="1750.2" y="929.8" width="30.2" height="294.6" fill="#000"/>
<line x1="1765.3" y1="916.8" x2="1765.3" y2="930.8" stroke="#000" stroke-width="3.2"/>
<line x1="1754.8" y1="916.8" x2="1775.8" y2="916.8" stroke="#000" stroke-width="3.2"/>
<text x="1677.7" y="1058.5" font-size="26.5" text-anchor="middle">**</text>
<text x="1763.0" y="913.1" font-size="26.5" text-anchor="middle">**</text>
<text x="1457.4" y="1044.5" font-size="37.4" text-anchor="middle" transform="rotate(-90 1457.4 1044.5)">Relative p21 level (%)</text>
<text x="1367.0" y="1273.6" font-size="37.4">ADQ (μM)</text>
<text x="1590.0" y="1280.7" font-size="37.4" text-anchor="middle">0</text>
<text x="1677.7" y="1280.7" font-size="37.4" text-anchor="middle">2</text>
<text x="1765.6" y="1280.7" font-size="37.4" text-anchor="middle">5</text>
<text x="4.0" y="1191.4" font-size="41.5" font-weight="bold">F</text>
<rect x="152.0" y="1370.1" width="28.8" height="482.5" fill="#000"/>
<line x1="166.4" y1="1347.9" x2="166.4" y2="1371.1" stroke="#000" stroke-width="3.2"/>
<line x1="156.4" y1="1347.9" x2="176.4" y2="1347.9" stroke="#000" stroke-width="3.2"/>
<rect x="186.4" y="1308.3" width="25.1" height="544.3" fill="#fff" stroke="#000" stroke-width="3.4"/>
<line x1="198.9" y1="1281.6" x2="198.9" y2="1307.6" stroke="#000" stroke-width="3.2"/>
<line x1="188.9" y1="1281.6" x2="208.9" y2="1281.6" stroke="#000" stroke-width="3.2"/>
<rect x="219.5" y="1248.5" width="25.1" height="604.1" fill="#bfbfbf" stroke="#000" stroke-width="3.4"/>
<line x1="232.1" y1="1230.0" x2="232.1" y2="1247.8" stroke="#000" stroke-width="3.2"/>
<line x1="222.1" y1="1230.0" x2="242.1" y2="1230.0" stroke="#000" stroke-width="3.2"/>
<rect x="299.1" y="1713.3" width="29.1" height="139.3" fill="#000"/>
<line x1="313.6" y1="1687.1" x2="313.6" y2="1714.3" stroke="#000" stroke-width="3.2"/>
<line x1="303.6" y1="1687.1" x2="323.6" y2="1687.1" stroke="#000" stroke-width="3.2"/>
<rect x="333.9" y="1733.9" width="25.0" height="118.7" fill="#fff" stroke="#000" stroke-width="3.4"/>
<line x1="346.4" y1="1719.1" x2="346.4" y2="1733.2" stroke="#000" stroke-width="3.2"/>
<line x1="336.4" y1="1719.1" x2="356.4" y2="1719.1" stroke="#000" stroke-width="3.2"/>
<rect x="366.3" y="1758.4" width="25.1" height="94.2" fill="#bfbfbf" stroke="#000" stroke-width="3.4"/>
<line x1="378.9" y1="1737.9" x2="378.9" y2="1757.7" stroke="#000" stroke-width="3.2"/>
<line x1="368.9" y1="1737.9" x2="388.9" y2="1737.9" stroke="#000" stroke-width="3.2"/>
<rect x="446.4" y="1654.3" width="28.6" height="198.3" fill="#000"/>
<line x1="460.7" y1="1616.7" x2="460.7" y2="1655.3" stroke="#000" stroke-width="3.2"/>
<line x1="450.7" y1="1616.7" x2="470.7" y2="1616.7" stroke="#000" stroke-width="3.2"/>
<rect x="480.6" y="1700.3" width="25.8" height="152.3" fill="#fff" stroke="#000" stroke-width="3.4"/>
<line x1="493.5" y1="1668.3" x2="493.5" y2="1699.6" stroke="#000" stroke-width="3.2"/>
<line x1="483.5" y1="1668.3" x2="503.5" y2="1668.3" stroke="#000" stroke-width="3.2"/>
<rect x="514.1" y="1734.7" width="24.8" height="117.9" fill="#bfbfbf" stroke="#000" stroke-width="3.4"/>
<line x1="526.5" y1="1710.9" x2="526.5" y2="1734.0" stroke="#000" stroke-width="3.2"/>
<line x1="516.5" y1="1710.9" x2="536.5" y2="1710.9" stroke="#000" stroke-width="3.2"/>
<text x="199.7" y="1273.9" font-size="26.5" text-anchor="middle">*</text>
<text x="233.8" y="1225.5" font-size="26.5" text-anchor="middle">**</text>
<text x="55.6" y="1501.5" font-size="37.4" text-anchor="middle" transform="rotate(-90 55.6 1501.5)">Cell population (%)</text>
<text x="197.7" y="1901.4" font-size="32.2" text-anchor="middle">G0/G1</text>
<text x="346.4" y="1901.4" font-size="32.2" text-anchor="middle">S</text>
<text x="493.0" y="1901.4" font-size="32.2" text-anchor="middle">G2/M</text>
<rect x="308.7" y="1198.0" width="30.0" height="30.3" fill="#000"/>
<text x="361.0" y="1226.2" font-size="32.5">ADQ (0 μM)</text>
<rect x="310.4" y="1262.2" width="26.5" height="26.1" fill="#fff" stroke="#000" stroke-width="3.5"/>
<text x="361.0" y="1284.3" font-size="32.5">ADQ (2 μM)</text>
<rect x="310.4" y="1325.4" width="26.5" height="25.7" fill="#bfbfbf" stroke="#000" stroke-width="3.5"/>
<text x="361.0" y="1345.7" font-size="32.5">ADQ (5 μM)</text>
<rect x="712.8" y="1227.3" width="47.0" height="151.2" fill="#bfbfbf" stroke="#000" stroke-width="3.2"/>
<rect x="712.8" y="1378.5" width="47.0" height="107.5" fill="#fff" stroke="#000" stroke-width="3.2"/>
<rect x="711.2" y="1485.9" width="50.2" height="373.1" fill="#000"/>
<rect x="817.0" y="1227.3" width="47.2" height="117.0" fill="#bfbfbf" stroke="#000" stroke-width="3.2"/>
<rect x="817.0" y="1344.3" width="47.2" height="92.3" fill="#fff" stroke="#000" stroke-width="3.2"/>
<rect x="815.4" y="1436.6" width="50.4" height="422.4" fill="#000"/>
<rect x="921.0" y="1227.3" width="46.8" height="91.1" fill="#bfbfbf" stroke="#000" stroke-width="3.2"/>
<rect x="921.0" y="1318.4" width="46.8" height="72.7" fill="#fff" stroke="#000" stroke-width="3.2"/>
<rect x="919.4" y="1391.1" width="50.0" height="467.9" fill="#000"/>
<text x="614.6" y="1514.5" font-size="37.4" text-anchor="middle" transform="rotate(-90 614.6 1514.5)">Cell population (%)</text>
<text x="734.5" y="1922.2" font-size="37.4" text-anchor="middle">0</text>
<text x="842.5" y="1922.2" font-size="37.4" text-anchor="middle">2</text>
<text x="948.6" y="1922.2" font-size="37.4" text-anchor="middle">5</text>
<text x="758.5" y="1959.5" font-size="37.4">ADQ (μM)</text>
<rect x="703.2" y="1178.0" width="19.3" height="19.0" fill="#000"/>
<rect x="836.7" y="1179.9" width="15.6" height="15.2" fill="#fff" stroke="#000" stroke-width="3"/>
<rect x="894.9" y="1179.9" width="15.5" height="15.2" fill="#bfbfbf" stroke="#000" stroke-width="3"/>
<text x="728.2" y="1196.5" font-size="31.6">G0/G1</text>
<text x="859.5" y="1196.5" font-size="31.6">S</text>
<text x="918.0" y="1196.5" font-size="31.6">G2/M</text>
<text x="1108.5" y="1362.0" font-size="41" font-weight="bold">G</text>
<rect x="1251.1" y="1771.6" width="25.8" height="44.9" fill="#000"/>
<rect x="1283.2" y="1771.1" width="21.0" height="45.4" fill="#fff" stroke="#000" stroke-width="3.4"/>
<rect x="1312.4" y="1771.1" width="21.2" height="45.4" fill="#bfbfbf" stroke="#000" stroke-width="3.4"/>
<rect x="1366.9" y="1678.5" width="25.8" height="138.0" fill="#000"/>
<line x1="1379.8" y1="1654.2" x2="1379.8" y2="1679.5" stroke="#000" stroke-width="3.2"/>
<line x1="1369.8" y1="1654.2" x2="1389.8" y2="1654.2" stroke="#000" stroke-width="3.2"/>
<rect x="1399.0" y="1727.3" width="21.0" height="89.2" fill="#fff" stroke="#000" stroke-width="3.4"/>
<line x1="1409.5" y1="1723.4" x2="1409.5" y2="1726.6" stroke="#000" stroke-width="3.2"/>
<line x1="1399.5" y1="1723.4" x2="1419.5" y2="1723.4" stroke="#000" stroke-width="3.2"/>
<rect x="1428.2" y="1737.8" width="21.2" height="78.7" fill="#bfbfbf" stroke="#000" stroke-width="3.4"/>
<line x1="1438.8" y1="1725.6" x2="1438.8" y2="1737.1" stroke="#000" stroke-width="3.2"/>
<line x1="1428.8" y1="1725.6" x2="1448.8" y2="1725.6" stroke="#000" stroke-width="3.2"/>
<rect x="1483.6" y="1670.6" width="25.8" height="145.9" fill="#000"/>
<line x1="1496.5" y1="1668.4" x2="1496.5" y2="1671.6" stroke="#000" stroke-width="3.2"/>
<line x1="1486.5" y1="1668.4" x2="1506.5" y2="1668.4" stroke="#000" stroke-width="3.2"/>
<rect x="1515.7" y="1734.0" width="21.0" height="82.5" fill="#fff" stroke="#000" stroke-width="3.4"/>
<line x1="1526.2" y1="1727.2" x2="1526.2" y2="1733.3" stroke="#000" stroke-width="3.2"/>
<line x1="1516.2" y1="1727.2" x2="1536.2" y2="1727.2" stroke="#000" stroke-width="3.2"/>
<rect x="1544.9" y="1761.4" width="21.2" height="55.1" fill="#bfbfbf" stroke="#000" stroke-width="3.4"/>
<line x1="1555.5" y1="1757.7" x2="1555.5" y2="1760.7" stroke="#000" stroke-width="3.2"/>
<line x1="1545.5" y1="1757.7" x2="1565.5" y2="1757.7" stroke="#000" stroke-width="3.2"/>
<rect x="1600.2" y="1497.1" width="25.8" height="319.4" fill="#000"/>
<line x1="1613.1" y1="1466.4" x2="1613.1" y2="1498.1" stroke="#000" stroke-width="3.2"/>
<line x1="1603.1" y1="1466.4" x2="1623.1" y2="1466.4" stroke="#000" stroke-width="3.2"/>
<rect x="1632.3" y="1670.1" width="21.0" height="146.4" fill="#fff" stroke="#000" stroke-width="3.4"/>
<line x1="1642.8" y1="1649.1" x2="1642.8" y2="1669.4" stroke="#000" stroke-width="3.2"/>
<line x1="1632.8" y1="1649.1" x2="1652.8" y2="1649.1" stroke="#000" stroke-width="3.2"/>
<rect x="1661.5" y="1772.0" width="21.2" height="44.5" fill="#bfbfbf" stroke="#000" stroke-width="3.4"/>
<line x1="1672.1" y1="1769.4" x2="1672.1" y2="1771.3" stroke="#000" stroke-width="3.2"/>
<line x1="1662.1" y1="1769.4" x2="1682.1" y2="1769.4" stroke="#000" stroke-width="3.2"/>
<rect x="1716.6" y="1443.0" width="25.8" height="373.5" fill="#000"/>
<line x1="1729.5" y1="1437.2" x2="1729.5" y2="1444.0" stroke="#000" stroke-width="3.2"/>
<line x1="1719.5" y1="1437.2" x2="1739.5" y2="1437.2" stroke="#000" stroke-width="3.2"/>
<rect x="1748.7" y="1682.2" width="21.0" height="134.3" fill="#fff" stroke="#000" stroke-width="3.4"/>
<line x1="1759.2" y1="1648.4" x2="1759.2" y2="1681.5" stroke="#000" stroke-width="3.2"/>
<line x1="1749.2" y1="1648.4" x2="1769.2" y2="1648.4" stroke="#000" stroke-width="3.2"/>
<rect x="1777.9" y="1776.2" width="21.2" height="40.3" fill="#bfbfbf" stroke="#000" stroke-width="3.4"/>
<line x1="1788.5" y1="1770.7" x2="1788.5" y2="1775.5" stroke="#000" stroke-width="3.2"/>
<line x1="1778.5" y1="1770.7" x2="1798.5" y2="1770.7" stroke="#000" stroke-width="3.2"/>
<text x="1530.0" y="1700.5" font-size="26.5" text-anchor="middle">**</text>
<text x="1559.4" y="1735.9" font-size="26.5" text-anchor="middle">***</text>
<text x="1645.8" y="1627.1" font-size="26.5" text-anchor="middle">*</text>
<text x="1674.4" y="1749.5" font-size="26.5" text-anchor="middle">*</text>
<text x="1762.8" y="1631.8" font-size="26.5" text-anchor="middle">*</text>
<text x="1791.0" y="1757.9" font-size="26.5" text-anchor="middle">***</text>
<text x="1143.0" y="1592.4" font-size="37.4" text-anchor="middle" transform="rotate(-90 1143.0 1592.4)">Cell growth (O.D)</text>
<text x="1295.4" y="1867.6" font-size="32.5" text-anchor="middle">0</text>
<text x="1409.3" y="1867.6" font-size="32.5" text-anchor="middle">24</text>
<text x="1529.0" y="1867.6" font-size="32.5" text-anchor="middle">48</text>
<text x="1643.8" y="1867.6" font-size="32.5" text-anchor="middle">72</text>
<text x="1756.5" y="1867.6" font-size="32.5" text-anchor="middle">96</text>
<text x="1527.3" y="1915.0" font-size="37.4" text-anchor="middle">Time (h)</text>
<rect x="1276.6" y="1385.3" width="30.5" height="29.5" fill="#000"/>
<text x="1329.6" y="1413.0" font-size="32.5">ADQ (0 μM)</text>
<rect x="1278.3" y="1449.3" width="27.0" height="25.9" fill="#fff" stroke="#000" stroke-width="3.5"/>
<text x="1329.6" y="1471.2" font-size="32.5">ADQ (2 μM)</text>
<rect x="1278.3" y="1509.0" width="27.0" height="25.9" fill="#bfbfbf" stroke="#000" stroke-width="3.5"/>
<text x="1329.6" y="1529.3" font-size="32.5">ADQ (5 μM)</text>
<line x1="680.3" y1="44.6" x2="680.3" y2="410.8" stroke="#000" stroke-width="3.5"/>
<line x1="672.0" y1="409.0" x2="966.8" y2="409.0" stroke="#000" stroke-width="3.5"/>
<line x1="672.3" y1="409.0" x2="680.3" y2="409.0" stroke="#000" stroke-width="3.5"/>
<line x1="672.3" y1="348.6" x2="680.3" y2="348.6" stroke="#000" stroke-width="3.5"/>
<line x1="672.3" y1="288.1" x2="680.3" y2="288.1" stroke="#000" stroke-width="3.5"/>
<line x1="672.3" y1="227.7" x2="680.3" y2="227.7" stroke="#000" stroke-width="3.5"/>
<line x1="672.3" y1="167.3" x2="680.3" y2="167.3" stroke="#000" stroke-width="3.5"/>
<line x1="672.3" y1="106.8" x2="680.3" y2="106.8" stroke="#000" stroke-width="3.5"/>
<line x1="672.3" y1="46.4" x2="680.3" y2="46.4" stroke="#000" stroke-width="3.5"/>
<line x1="728.0" y1="409.0" x2="728.0" y2="420.0" stroke="#000" stroke-width="3.5"/>
<line x1="822.7" y1="409.0" x2="822.7" y2="420.0" stroke="#000" stroke-width="3.5"/>
<line x1="917.0" y1="409.0" x2="917.0" y2="420.0" stroke="#000" stroke-width="3.5"/>
<line x1="965.0" y1="409.0" x2="965.0" y2="420.0" stroke="#000" stroke-width="3.5"/>
<text x="657.0" y="418.0" font-size="27.5" text-anchor="end">0</text>
<text x="657.0" y="357.6" font-size="27.5" text-anchor="end">20</text>
<text x="657.0" y="297.1" font-size="27.5" text-anchor="end">40</text>
<text x="657.0" y="236.7" font-size="27.5" text-anchor="end">60</text>
<text x="657.0" y="176.3" font-size="27.5" text-anchor="end">80</text>
<text x="657.0" y="115.8" font-size="27.5" text-anchor="end">100</text>
<text x="657.0" y="55.4" font-size="27.5" text-anchor="end">120</text>
<line x1="1705.0" y1="107.5" x2="1705.0" y2="432.6" stroke="#000" stroke-width="3.5"/>
<line x1="1697.0" y1="430.9" x2="2001.8" y2="430.9" stroke="#000" stroke-width="3.5"/>
<line x1="1697.0" y1="430.9" x2="1705.0" y2="430.9" stroke="#000" stroke-width="3.5"/>
<line x1="1697.0" y1="366.6" x2="1705.0" y2="366.6" stroke="#000" stroke-width="3.5"/>
<line x1="1697.0" y1="302.3" x2="1705.0" y2="302.3" stroke="#000" stroke-width="3.5"/>
<line x1="1697.0" y1="237.9" x2="1705.0" y2="237.9" stroke="#000" stroke-width="3.5"/>
<line x1="1697.0" y1="173.6" x2="1705.0" y2="173.6" stroke="#000" stroke-width="3.5"/>
<line x1="1697.0" y1="109.3" x2="1705.0" y2="109.3" stroke="#000" stroke-width="3.5"/>
<line x1="1753.5" y1="430.9" x2="1753.5" y2="440.4" stroke="#000" stroke-width="3.5"/>
<line x1="1852.4" y1="430.9" x2="1852.4" y2="440.4" stroke="#000" stroke-width="3.5"/>
<line x1="1950.0" y1="430.9" x2="1950.0" y2="440.4" stroke="#000" stroke-width="3.5"/>
<line x1="2000.0" y1="430.9" x2="2000.0" y2="440.4" stroke="#000" stroke-width="3.5"/>
<text x="1680.5" y="439.6" font-size="26.8" text-anchor="end">0</text>
<text x="1680.5" y="375.3" font-size="26.8" text-anchor="end">30</text>
<text x="1680.5" y="311.0" font-size="26.8" text-anchor="end">60</text>
<text x="1680.5" y="246.6" font-size="26.8" text-anchor="end">90</text>
<text x="1680.5" y="182.3" font-size="26.8" text-anchor="end">120</text>
<text x="1680.5" y="118.0" font-size="26.8" text-anchor="end">150</text>
<line x1="237.9" y1="546.5" x2="237.9" y2="1030.5" stroke="#000" stroke-width="3.5"/>
<line x1="230.0" y1="1028.8" x2="558.0" y2="1028.8" stroke="#000" stroke-width="3.5"/>
<line x1="229.9" y1="1028.8" x2="237.9" y2="1028.8" stroke="#000" stroke-width="3.5"/>
<line x1="229.9" y1="975.4" x2="237.9" y2="975.4" stroke="#000" stroke-width="3.5"/>
<line x1="229.9" y1="922.0" x2="237.9" y2="922.0" stroke="#000" stroke-width="3.5"/>
<line x1="229.9" y1="868.6" x2="237.9" y2="868.6" stroke="#000" stroke-width="3.5"/>
<line x1="229.9" y1="815.2" x2="237.9" y2="815.2" stroke="#000" stroke-width="3.5"/>
<line x1="229.9" y1="761.9" x2="237.9" y2="761.9" stroke="#000" stroke-width="3.5"/>
<line x1="229.9" y1="708.5" x2="237.9" y2="708.5" stroke="#000" stroke-width="3.5"/>
<line x1="229.9" y1="655.1" x2="237.9" y2="655.1" stroke="#000" stroke-width="3.5"/>
<line x1="229.9" y1="601.7" x2="237.9" y2="601.7" stroke="#000" stroke-width="3.5"/>
<line x1="229.9" y1="548.3" x2="237.9" y2="548.3" stroke="#000" stroke-width="3.5"/>
<line x1="291.0" y1="1028.8" x2="291.0" y2="1039.8" stroke="#000" stroke-width="3.5"/>
<line x1="397.0" y1="1028.8" x2="397.0" y2="1039.8" stroke="#000" stroke-width="3.5"/>
<line x1="503.4" y1="1028.8" x2="503.4" y2="1039.8" stroke="#000" stroke-width="3.5"/>
<line x1="556.3" y1="1028.8" x2="556.3" y2="1039.8" stroke="#000" stroke-width="3.5"/>
<text x="212.5" y="1037.5" font-size="26.6" text-anchor="end">0</text>
<text x="212.5" y="984.1" font-size="26.6" text-anchor="end">20</text>
<text x="212.5" y="930.7" font-size="26.6" text-anchor="end">40</text>
<text x="212.5" y="877.3" font-size="26.6" text-anchor="end">60</text>
<text x="212.5" y="823.9" font-size="26.6" text-anchor="end">80</text>
<text x="212.5" y="770.6" font-size="26.6" text-anchor="end">100</text>
<text x="212.5" y="717.2" font-size="26.6" text-anchor="end">120</text>
<text x="212.5" y="663.8" font-size="26.6" text-anchor="end">140</text>
<text x="212.5" y="610.4" font-size="26.6" text-anchor="end">160</text>
<text x="212.5" y="557.0" font-size="26.6" text-anchor="end">180</text>
<line x1="1547.0" y1="911.5" x2="1547.0" y2="1226.2" stroke="#000" stroke-width="3.5"/>
<line x1="1537.6" y1="1224.4" x2="1812.2" y2="1224.4" stroke="#000" stroke-width="3.5"/>
<line x1="1539.0" y1="1224.4" x2="1547.0" y2="1224.4" stroke="#000" stroke-width="3.5"/>
<line x1="1539.0" y1="1172.5" x2="1547.0" y2="1172.5" stroke="#000" stroke-width="3.5"/>
<line x1="1539.0" y1="1120.7" x2="1547.0" y2="1120.7" stroke="#000" stroke-width="3.5"/>
<line x1="1539.0" y1="1068.8" x2="1547.0" y2="1068.8" stroke="#000" stroke-width="3.5"/>
<line x1="1539.0" y1="1016.9" x2="1547.0" y2="1016.9" stroke="#000" stroke-width="3.5"/>
<line x1="1539.0" y1="965.1" x2="1547.0" y2="965.1" stroke="#000" stroke-width="3.5"/>
<line x1="1539.0" y1="913.2" x2="1547.0" y2="913.2" stroke="#000" stroke-width="3.5"/>
<line x1="1589.6" y1="1224.4" x2="1589.6" y2="1235.4" stroke="#000" stroke-width="3.5"/>
<line x1="1677.7" y1="1224.4" x2="1677.7" y2="1235.4" stroke="#000" stroke-width="3.5"/>
<line x1="1765.6" y1="1224.4" x2="1765.6" y2="1235.4" stroke="#000" stroke-width="3.5"/>
<line x1="1810.5" y1="1224.4" x2="1810.5" y2="1235.4" stroke="#000" stroke-width="3.5"/>
<text transform="translate(1521.6 1232.8) scale(1.05 1)" font-size="26.2" text-anchor="end">0</text>
<text transform="translate(1521.6 1180.9) scale(1.05 1)" font-size="26.2" text-anchor="end">50</text>
<text transform="translate(1521.6 1129.1) scale(1.05 1)" font-size="26.2" text-anchor="end">100</text>
<text transform="translate(1521.6 1077.2) scale(1.05 1)" font-size="26.2" text-anchor="end">150</text>
<text transform="translate(1521.6 1025.3) scale(1.05 1)" font-size="26.2" text-anchor="end">200</text>
<text transform="translate(1521.6 973.5) scale(1.05 1)" font-size="26.2" text-anchor="end">250</text>
<text transform="translate(1521.6 921.6) scale(1.05 1)" font-size="26.2" text-anchor="end">300</text>
<line x1="126.3" y1="1195.5" x2="126.3" y2="1854.3" stroke="#000" stroke-width="3.5"/>
<line x1="116.3" y1="1852.6" x2="569.8" y2="1852.6" stroke="#000" stroke-width="3.5"/>
<line x1="116.3" y1="1852.6" x2="126.3" y2="1852.6" stroke="#000" stroke-width="3.5"/>
<line x1="116.3" y1="1770.7" x2="126.3" y2="1770.7" stroke="#000" stroke-width="3.5"/>
<line x1="116.3" y1="1688.8" x2="126.3" y2="1688.8" stroke="#000" stroke-width="3.5"/>
<line x1="116.3" y1="1606.8" x2="126.3" y2="1606.8" stroke="#000" stroke-width="3.5"/>
<line x1="116.3" y1="1524.9" x2="126.3" y2="1524.9" stroke="#000" stroke-width="3.5"/>
<line x1="116.3" y1="1443.0" x2="126.3" y2="1443.0" stroke="#000" stroke-width="3.5"/>
<line x1="116.3" y1="1361.0" x2="126.3" y2="1361.0" stroke="#000" stroke-width="3.5"/>
<line x1="116.3" y1="1279.1" x2="126.3" y2="1279.1" stroke="#000" stroke-width="3.5"/>
<line x1="116.3" y1="1197.2" x2="126.3" y2="1197.2" stroke="#000" stroke-width="3.5"/>
<line x1="198.4" y1="1852.6" x2="198.4" y2="1859.6" stroke="#000" stroke-width="3.5"/>
<line x1="346.4" y1="1852.6" x2="346.4" y2="1859.6" stroke="#000" stroke-width="3.5"/>
<line x1="493.0" y1="1852.6" x2="493.0" y2="1859.6" stroke="#000" stroke-width="3.5"/>
<line x1="568.0" y1="1852.6" x2="568.0" y2="1859.6" stroke="#000" stroke-width="3.5"/>
<text x="100.9" y="1861.5" font-size="28.2" text-anchor="end">0</text>
<text x="100.9" y="1779.6" font-size="28.2" text-anchor="end">10</text>
<text x="100.9" y="1697.7" font-size="28.2" text-anchor="end">20</text>
<text x="100.9" y="1615.7" font-size="28.2" text-anchor="end">30</text>
<text x="100.9" y="1533.8" font-size="28.2" text-anchor="end">40</text>
<text x="100.9" y="1451.9" font-size="28.2" text-anchor="end">50</text>
<text x="100.9" y="1370.0" font-size="28.2" text-anchor="end">60</text>
<text x="100.9" y="1288.0" font-size="28.2" text-anchor="end">70</text>
<text x="100.9" y="1206.1" font-size="28.2" text-anchor="end">80</text>
<line x1="684.8" y1="1225.0" x2="684.8" y2="1860.7" stroke="#000" stroke-width="3.3"/>
<line x1="667.5" y1="1859.0" x2="999.9" y2="1859.0" stroke="#000" stroke-width="3.3"/>
<line x1="667.8" y1="1859.0" x2="684.8" y2="1859.0" stroke="#000" stroke-width="3.3"/>
<line x1="667.8" y1="1732.5" x2="684.8" y2="1732.5" stroke="#000" stroke-width="3.3"/>
<line x1="667.8" y1="1606.1" x2="684.8" y2="1606.1" stroke="#000" stroke-width="3.3"/>
<line x1="667.8" y1="1479.6" x2="684.8" y2="1479.6" stroke="#000" stroke-width="3.3"/>
<line x1="667.8" y1="1353.2" x2="684.8" y2="1353.2" stroke="#000" stroke-width="3.3"/>
<line x1="667.8" y1="1226.7" x2="684.8" y2="1226.7" stroke="#000" stroke-width="3.3"/>
<line x1="736.0" y1="1859.0" x2="736.0" y2="1868.5" stroke="#000" stroke-width="3.3"/>
<line x1="839.6" y1="1859.0" x2="839.6" y2="1868.5" stroke="#000" stroke-width="3.3"/>
<line x1="944.0" y1="1859.0" x2="944.0" y2="1868.5" stroke="#000" stroke-width="3.3"/>
<line x1="998.2" y1="1859.0" x2="998.2" y2="1868.5" stroke="#000" stroke-width="3.3"/>
<text x="661.2" y="1861.5" font-size="27" text-anchor="end">0</text>
<text x="659.6" y="1736.9" font-size="27" text-anchor="end">20</text>
<text x="659.6" y="1612.3" font-size="27" text-anchor="end">40</text>
<text x="659.6" y="1487.8" font-size="27" text-anchor="end">60</text>
<text x="659.6" y="1363.2" font-size="27" text-anchor="end">80</text>
<text x="658.6" y="1238.6" font-size="27" text-anchor="end">100</text>
<line x1="1235.6" y1="1365.8" x2="1235.6" y2="1818.2" stroke="#000" stroke-width="3.5"/>
<line x1="1226.7" y1="1816.5" x2="1820.3" y2="1816.5" stroke="#000" stroke-width="3.5"/>
<line x1="1227.6" y1="1816.5" x2="1235.6" y2="1816.5" stroke="#000" stroke-width="3.5"/>
<line x1="1227.6" y1="1726.7" x2="1235.6" y2="1726.7" stroke="#000" stroke-width="3.5"/>
<line x1="1227.6" y1="1636.9" x2="1235.6" y2="1636.9" stroke="#000" stroke-width="3.5"/>
<line x1="1227.6" y1="1547.2" x2="1235.6" y2="1547.2" stroke="#000" stroke-width="3.5"/>
<line x1="1227.6" y1="1457.4" x2="1235.6" y2="1457.4" stroke="#000" stroke-width="3.5"/>
<line x1="1227.6" y1="1367.6" x2="1235.6" y2="1367.6" stroke="#000" stroke-width="3.5"/>
<line x1="1293.5" y1="1816.5" x2="1293.5" y2="1825.5" stroke="#000" stroke-width="3.5"/>
<line x1="1409.3" y1="1816.5" x2="1409.3" y2="1825.5" stroke="#000" stroke-width="3.5"/>
<line x1="1526.0" y1="1816.5" x2="1526.0" y2="1825.5" stroke="#000" stroke-width="3.5"/>
<line x1="1642.6" y1="1816.5" x2="1642.6" y2="1825.5" stroke="#000" stroke-width="3.5"/>
<line x1="1759.0" y1="1816.5" x2="1759.0" y2="1825.5" stroke="#000" stroke-width="3.5"/>
<line x1="1818.6" y1="1816.5" x2="1818.6" y2="1825.5" stroke="#000" stroke-width="3.5"/>
<text x="1210.6" y="1825.2" font-size="27.5" text-anchor="end">0</text>
<text x="1210.6" y="1735.4" font-size="27.5" text-anchor="end">0.4</text>
<text x="1210.6" y="1645.6" font-size="27.5" text-anchor="end">0.8</text>
<text x="1210.6" y="1555.9" font-size="27.5" text-anchor="end">1.2</text>
<text x="1210.6" y="1466.1" font-size="27.5" text-anchor="end">1.6</text>
<text x="1210.6" y="1376.3" font-size="27.5" text-anchor="end">2</text>
</svg>
</body></html>
